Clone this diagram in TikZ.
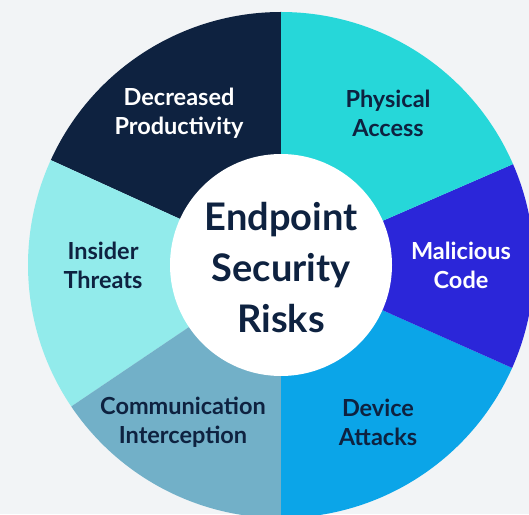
\documentclass[tikz,border=0pt]{standalone}
\usepackage{fontspec}
\setmainfont{Lato}
\definecolor{bgcol}{HTML}{F2F4F6}
\definecolor{navy}{HTML}{0E2240}
\definecolor{turq}{HTML}{26D7D9}
\definecolor{violet}{HTML}{2B26D9}
\definecolor{sky}{HTML}{0BA5E8}
\definecolor{steel}{HTML}{72B0C8}
\definecolor{aqua}{HTML}{92EBEB}
\tikzset{
  risk/.style={align=center, font=\bfseries\fontsize{23.5}{29}\selectfont, text=navy},
  risklight/.style={risk, text=white},
  hub/.style={align=center, font=\bfseries\fontsize{38}{51}\selectfont, text=navy}
}
\begin{document}
\begin{tikzpicture}[x=1pt,y=1pt]
\useasboundingbox (0,0) rectangle (529,514);
\fill[bgcol] (0,0) rectangle (529,514);
\clip (0,0) rectangle (529,514);
\coordinate (c) at (281,249);
% slices
\fill[navy] (c) -- ++(90:253) arc[start angle=90, end angle=155.5, radius=253] -- cycle;
\fill[aqua] (c) -- ++(155.5:253) arc[start angle=155.5, end angle=214, radius=253] -- cycle;
\fill[steel] (c) -- ++(214:253) arc[start angle=214, end angle=270, radius=253] -- cycle;
\fill[sky] (c) -- ++(270:253) arc[start angle=270, end angle=336, radius=253] -- cycle;
\fill[violet] (c) -- ++(-24:253) arc[start angle=-24, end angle=23.5, radius=253] -- cycle;
\fill[turq] (c) -- ++(23.5:253) arc[start angle=23.5, end angle=90, radius=253] -- cycle;
\node[circle, fill=white, minimum size=222pt, inner sep=0pt] (hub) at (c) {};
\node[hub] (title) at (281,246) {Endpoint\\Security\\Risks};
% labels
\node[risklight] (prod) at (179,401) {Decreased\\Productivity};
\node[risk] (phys) at (388,401) {Physical\\Access};
\node[risklight] (code) at (461,249) {Malicious\\Code};
\node[risk] (dev) at (378,92) {Device\\Attacks};
\node[risk] (comm) at (183,92) {Communication\\Interception};
\node[risk] (ins) at (103,249) {Insider\\Threats};
\end{tikzpicture}
\end{document}
